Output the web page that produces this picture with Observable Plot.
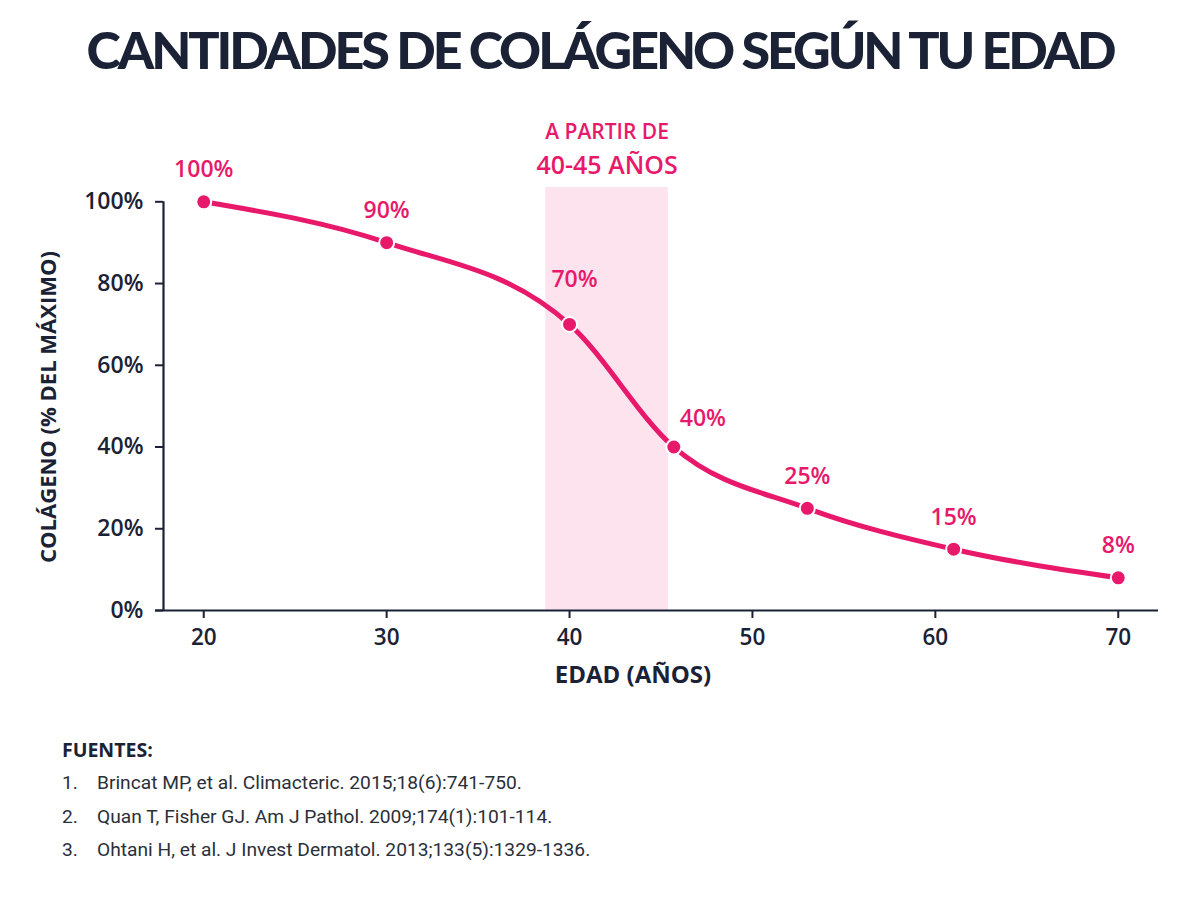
<!DOCTYPE html>
<html lang="es">
<head>
<meta charset="utf-8">
<script src="https://cdn.jsdelivr.net/npm/d3@7"></script>
<script src="https://cdn.jsdelivr.net/npm/@observablehq/plot@0.6"></script>
<style>
  html, body { margin: 0; padding: 0; background: #ffffff; }
  #page { position: relative; width: 1200px; height: 900px; overflow: hidden; font-family: "Open Sans", sans-serif; color: #1b2235; }
  #title { position: absolute; left: 0; top: 23px; width: 1200px; text-align: center; margin: 0;
           font-family: Lato, sans-serif; font-size: 52px; line-height: 1; font-weight: 900; color: #1b2235; white-space: nowrap; }
  #chart { position: absolute; left: 0; top: 100px; }
  #sources { position: absolute; left: 62px; top: 738px; font-family: Roboto, sans-serif; color: #2a2f3a; }
  #sources h2 { margin: 0 0 4px 0; font-family: "Open Sans", sans-serif; font-size: 19.5px; font-weight: 700; color: #1b2235; line-height: 24px; }
  #sources ol { margin: 0; padding: 0; list-style: none; }
  #sources li { font-size: 19.2px; line-height: 33.5px; height: 33.5px; }
  #sources li span.n { display: inline-block; width: 35px; }
</style>
</head>
<body>
<div id="page">
  <h1 id="title"><span></span></h1>
  <div id="chart"></div>
  <div id="sources"><h2></h2><ol></ol></div>
</div>
<script>
// Collagen level by age, as a share of the peak value
const ages = [20, 30, 40, 45.7, 53, 61, 70];
const collagen = [100, 90, 70, 40, 25, 15, 8];
const pointLabels = ["100%", "90%", "70%", "40%", "25%", "15%", "8%"];

// Axis ticks
const xTicks = [20, 30, 40, 50, 60, 70];
const yTicks = [0, 20, 40, 60, 80, 100];
const xDomain = [17.8, 72.2];
const yDomain = [0, 103.5];

// Highlighted age range
const bandStart = [38.7];
const bandEnd = [45.4];
const bandLines = ["A PARTIR DE", "40-45 AÑOS"];

// Texts
const titleText = "CANTIDADES DE COLÁGENO SEGÚN TU EDAD";
const xLabel = "EDAD (AÑOS)";
const yLabel = "COLÁGENO (% DEL MÁXIMO)";
const sourcesTitle = "FUENTES:";
const sources = [
  "Brincat MP, et al. Climacteric. 2015;18(6):741-750.",
  "Quan T, Fisher GJ. Am J Pathol. 2009;174(1):101-114.",
  "Ohtani H, et al. J Invest Dermatol. 2013;133(5):1329-1336."
];

const pink = "#e8196b";
const ink = "#1b2235";

const points = ages.map((age, i) => ({age, pct: collagen[i], label: pointLabels[i]}));
const bands = bandStart.map((s, i) => ({start: s, end: bandEnd[i]}));

// Labels placed above their points, with two nudged aside
const aboveLabels = points.filter(d => d.label !== "70%" && d.label !== "40%");
const label70 = points.filter(d => d.label === "70%");
const label40 = points.filter(d => d.label === "40%");

// Title: tighten the tracking so the heading fits its 1027px line
const titleSpan = document.querySelector("#title span");
titleSpan.textContent = titleText;
const titleWidth = titleSpan.getBoundingClientRect().width;
titleSpan.style.letterSpacing = `${(1027 - titleWidth) / titleText.length}px`;

const labelStyle = {fill: pink, fontSize: 23, fontWeight: 600};

const chart = Plot.plot({
  width: 1200,
  height: 595,
  marginLeft: 163,
  marginRight: 42,
  marginTop: 87,
  marginBottom: 85,
  style: {fontFamily: "'Open Sans', sans-serif", background: "transparent", color: ink},
  x: {domain: xDomain},
  y: {domain: yDomain},
  marks: [
    Plot.rect(bands, {x1: "start", x2: "end", fill: "#fce3ee"}),
    Plot.text(bands, {x: d => (d.start + d.end) / 2, text: () => bandLines[0], frameAnchor: "top",
      lineAnchor: "middle", dy: -55, fill: pink, fontSize: 21, fontWeight: 600}),
    Plot.text(bands, {x: d => (d.start + d.end) / 2, text: () => bandLines[1], frameAnchor: "top",
      lineAnchor: "middle", dy: -22, fill: pink, fontSize: 25, fontWeight: 600}),
    Plot.ruleY([0], {stroke: ink, strokeWidth: 2.2, insetLeft: -8}),
    Plot.ruleX([xDomain[0]], {y1: 0, y2: 100, stroke: ink, strokeWidth: 2.2}),
    Plot.axisY({ticks: yTicks, tickFormat: d => `${d}%`, tickSize: 8, tickPadding: 12, fontSize: 23,
      fontWeight: 600, stroke: ink, fill: ink, strokeWidth: 2, label: null}),
    Plot.axisX({ticks: xTicks, tickFormat: d => `${d}`, tickSize: 8, tickPadding: 11, fontSize: 22.5,
      fontWeight: 600, stroke: ink, fill: ink, strokeWidth: 2, label: null}),
    Plot.text([yLabel], {frameAnchor: "left", textAnchor: "middle", lineAnchor: "middle", rotate: -90,
      dx: -115, dy: 8, fontSize: 22, fontWeight: 700, fill: ink}),
    Plot.text([xLabel], {frameAnchor: "bottom", lineAnchor: "middle", dx: -28, dy: 65,
      fontSize: 24, fontWeight: 700, fill: ink}),
    Plot.line(points, {x: "age", y: "pct", curve: "monotone-x", stroke: pink, strokeWidth: 5,
      strokeLinecap: "round", strokeLinejoin: "round"}),
    Plot.dot(points, {x: "age", y: "pct", r: 7.5, fill: pink, stroke: "white", strokeWidth: 2}),
    Plot.text(aboveLabels, {x: "age", y: "pct", text: "label", dy: -32, ...labelStyle}),
    Plot.text(label70, {x: "age", y: "pct", text: "label", dx: 5, dy: -45, ...labelStyle}),
    Plot.text(label40, {x: "age", y: "pct", text: "label", dx: 29, dy: -28, ...labelStyle})
  ]
});
document.getElementById("chart").appendChild(chart);

document.querySelector("#sources h2").textContent = sourcesTitle;
const ol = document.querySelector("#sources ol");
sources.forEach((s, i) => {
  const li = document.createElement("li");
  const n = document.createElement("span");
  n.className = "n";
  n.textContent = `${i + 1}.`;
  li.appendChild(n);
  li.appendChild(document.createTextNode(s));
  ol.appendChild(li);
});
</script>
</body>
</html>
